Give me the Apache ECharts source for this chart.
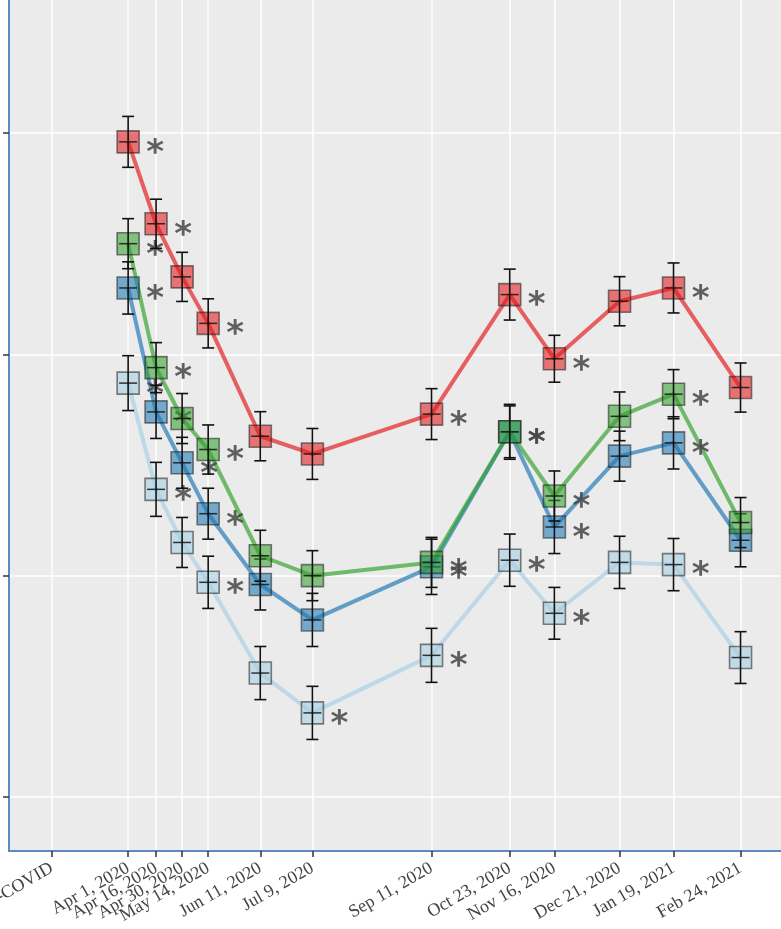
<!DOCTYPE html>
<html>
<head>
<meta charset="utf-8">
<script src="https://cdn.jsdelivr.net/npm/echarts@6/dist/echarts.min.js"></script>
<style>
  html, body { margin: 0; padding: 0; background: #fff; }
  #main { width: 781px; height: 929px; }
</style>
</head>
<body>
<div id="main"></div>
<script>
// x ticks (dates) and their labels
const tickDates = ['2020-02-20', '2020-04-01', '2020-04-16', '2020-04-30', '2020-05-14', '2020-06-11',
  '2020-07-09', '2020-09-11', '2020-10-23', '2020-11-16', '2020-12-21', '2021-01-19', '2021-02-24'];
const tickLabels = ['Pre-COVID', 'Apr 1, 2020', 'Apr 16, 2020', 'Apr 30, 2020', 'May 14, 2020', 'Jun 11, 2020',
  'Jul 9, 2020', 'Sep 11, 2020', 'Oct 23, 2020', 'Nov 16, 2020', 'Dec 21, 2020', 'Jan 19, 2021', 'Feb 24, 2021'];
const pointDates = tickDates.slice(1);
const yTicks = [1, 2, 3, 4];

// series values, error half-widths, significance stars (1 = star)
const redValues = [3.96, 3.59, 3.35, 3.14, 2.63, 2.55, 2.73, 3.27, 2.98, 3.24, 3.30, 2.85];
const redErr = [0.115, 0.111, 0.111, 0.111, 0.111, 0.115, 0.115, 0.115, 0.106, 0.111, 0.113, 0.111];
const redStars = [1, 1, 0, 1, 0, 0, 1, 1, 1, 0, 1, 0];

const greenValues = [3.50, 2.94, 2.71, 2.57, 2.09, 2.00, 2.06, 2.65, 2.36, 2.72, 2.82, 2.24];
const greenErr = [0.113, 0.113, 0.113, 0.111, 0.115, 0.113, 0.113, 0.117, 0.113, 0.11, 0.111, 0.113];
const greenStars = [1, 1, 0, 1, 0, 0, 1, 1, 1, 0, 1, 0];

const blueValues = [3.30, 2.74, 2.51, 2.28, 1.96, 1.80, 2.04, 2.65, 2.22, 2.54, 2.60, 2.16];
const blueErr = [0.118, 0.12, 0.115, 0.115, 0.115, 0.12, 0.125, 0.124, 0.12, 0.113, 0.118, 0.12];
const blueStars = [1, 1, 1, 1, 0, 0, 1, 1, 1, 0, 1, 0];

const lightValues = [2.87, 2.39, 2.15, 1.97, 1.56, 1.38, 1.64, 2.07, 1.83, 2.06, 2.05, 1.63];
const lightErr = [0.124, 0.122, 0.113, 0.118, 0.12, 0.12, 0.122, 0.118, 0.117, 0.118, 0.118, 0.117];
const lightStars = [1, 1, 0, 1, 0, 1, 1, 1, 1, 0, 1, 0];

// dates -> day numbers, so a plain value axis can place them
function toDay(s) {
  const p = s.split('-').map(Number);
  return Math.round(Date.UTC(p[0], p[1] - 1, p[2]) / 86400000);
}
const tickDays = tickDates.map(toDay);
const labelByDay = {};
tickDays.forEach((d, i) => { labelByDay[d] = tickLabels[i]; });

function lineSeries(color, values) {
  return {
    type: 'line',
    data: pointDates.map((d, i) => [toDay(d), values[i]]),
    symbol: 'none',
    lineStyle: { color: color, width: 4, opacity: 0.68 },
    silent: true,
    z: 2,
  };
}

function markerSeries(color, values, errs, stars) {
  return {
    type: 'custom',
    data: pointDates.map((d, i) => [toDay(d), values[i], errs[i], stars[i]]),
    encode: { x: 0, y: 1 },
    z: 3,
    renderItem: (params, api) => {
      const t = api.value(0);
      const v = api.value(1);
      const e = api.value(2);
      const c = api.coord([t, v]);
      const hi = api.coord([t, v + e]);
      const lo = api.coord([t, v - e]);
      const s = 22;
      const cap = 6;
      const children = [
        {
          type: 'rect',
          shape: { x: c[0] - s / 2, y: c[1] - s / 2, width: s, height: s },
          style: { fill: color, opacity: 0.58, stroke: 'rgba(30,30,30,0.95)', lineWidth: 1.6 },
        },
        {
          type: 'line',
          shape: { x1: c[0] - 9, y1: c[1], x2: c[0] + 9, y2: c[1] },
          style: { stroke: 'rgba(20,20,20,0.85)', lineWidth: 1.5 },
        },
        {
          type: 'line',
          shape: { x1: c[0], y1: hi[1], x2: c[0], y2: lo[1] },
          style: { stroke: '#111', lineWidth: 1.6 },
        },
        {
          type: 'line',
          shape: { x1: c[0] - cap, y1: hi[1], x2: c[0] + cap, y2: hi[1] },
          style: { stroke: '#111', lineWidth: 1.6 },
        },
        {
          type: 'line',
          shape: { x1: c[0] - cap, y1: lo[1], x2: c[0] + cap, y2: lo[1] },
          style: { stroke: '#111', lineWidth: 1.6 },
        },
      ];
      if (api.value(3) === 1) {
        children.push({
          type: 'text',
          style: {
            text: '*', x: c[0] + 27, y: c[1] + 12,
            fontSize: 34, fontFamily: 'DejaVu Sans', fontWeight: 'bold',
            fill: 'rgba(70,70,70,0.85)', align: 'center', verticalAlign: 'middle',
          },
        });
      }
      return { type: 'group', children: children };
    },
  };
}

const chart = echarts.init(document.getElementById('main'));
chart.setOption({
  animation: false,
  grid: {
    left: 9, top: 0, bottom: 78, width: 806,
    containLabel: false, outerBoundsMode: 'none',
    show: true, backgroundColor: '#ebebeb', borderWidth: 0,
  },
  xAxis: {
    type: 'value',
    min: toDay('2020-01-28'),
    max: toDay('2021-04-05'),
    axisLine: { show: true, onZero: false, lineStyle: { color: '#5a8bc2', width: 2 } },
    axisTick: { show: true, customValues: tickDays, length: 6, lineStyle: { color: '#333', width: 1.5 } },
    axisLabel: {
      customValues: tickDays,
      rotate: 30,
      margin: 16,
      fontFamily: 'Liberation Serif',
      fontSize: 18,
      color: '#444',
      formatter: (val) => labelByDay[val] || '',
    },
    splitLine: { show: true, lineStyle: { color: '#ffffff', width: 1.5 } },
  },
  yAxis: {
    type: 'value',
    min: 0.756,
    max: 4.601,
    axisLine: { show: true, onZero: false, lineStyle: { color: '#5a8bc2', width: 2 } },
    axisTick: { show: true, customValues: yTicks, length: 6, lineStyle: { color: '#333', width: 1.5 } },
    axisLabel: { show: false, customValues: yTicks },
    splitLine: { show: true, lineStyle: { color: '#ffffff', width: 1.5 } },
  },
  series: [
    lineSeries('#a6cee3', lightValues),
    lineSeries('#1f78b4', blueValues),
    lineSeries('#33a02c', greenValues),
    lineSeries('#e31a1c', redValues),
    markerSeries('#a6cee3', lightValues, lightErr, lightStars),
    markerSeries('#1f78b4', blueValues, blueErr, blueStars),
    markerSeries('#33a02c', greenValues, greenErr, greenStars),
    markerSeries('#e31a1c', redValues, redErr, redStars),
  ],
});
</script>
</body>
</html>
